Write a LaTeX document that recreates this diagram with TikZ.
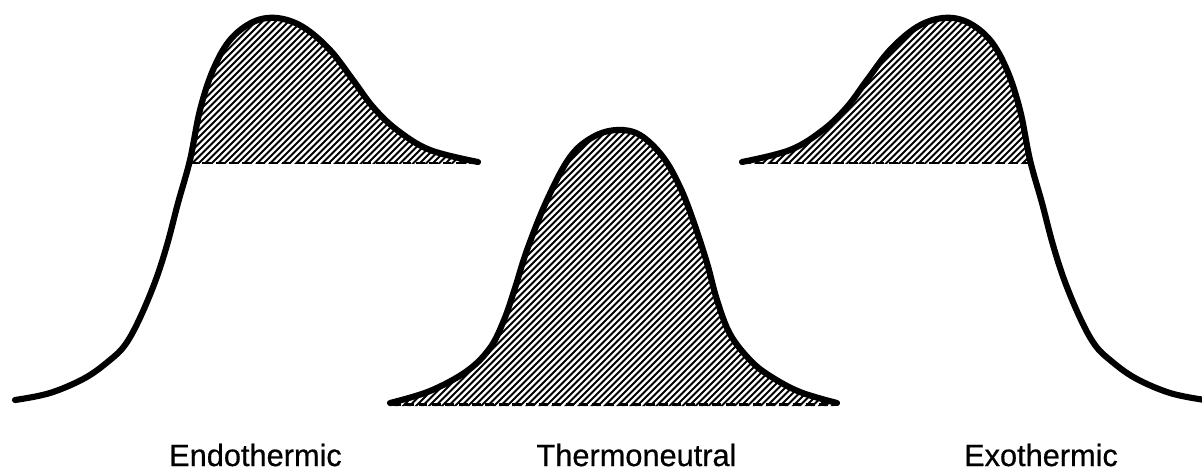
\documentclass[tikz,border=0pt]{standalone}
\usepackage{fontspec}
\setmainfont{Liberation Sans}
\newfontfamily\lblfont[FakeBold=0.6]{Liberation Sans}
\begin{document}
\begin{tikzpicture}[x=0.02cm,y=-0.02cm,
  curve/.style={line width=3.5pt,line cap=round,line join=round},
  basedash/.style={line width=1.7pt,dash pattern=on 5pt off 2.6pt},
  hatchline/.style={line width=1.1pt},
  lbl/.style={font=\lblfont\fontsize{17.5}{20}\selectfont,anchor=base,inner sep=0pt}]
\useasboundingbox (0,0) rectangle (1202,470);

% ---------- Endothermic ----------
\begin{scope}
  \clip (0,0) rectangle (1202,163);
  \clip plot[smooth,tension=0.6] coordinates {(15,400) (50,393) (85,378) (110,360) (125,345) (139,320) (155,282) (167,245) (178,203) (190,160) (200,110) (213,70) (230,40) (253,22) (277,18) (303,27) (330,50) (353,80) (373,107) (397,130) (430,150) (478,162)} -- (478,400) -- cycle;
  \foreach \i in {180,186.5,...,660} \draw[hatchline] (\i,0) -- ++(-470,470);
\end{scope}
\draw[basedash] (189,163) -- (478,163);
\draw[curve] plot[smooth,tension=0.6] coordinates {(15,400) (50,393) (85,378) (110,360) (125,345) (139,320) (155,282) (167,245) (178,203) (190,160) (200,110) (213,70) (230,40) (253,22) (277,18) (303,27) (330,50) (353,80) (373,107) (397,130) (430,150) (478,162)};

% ---------- Thermoneutral ----------
\begin{scope}
  \clip plot[smooth,tension=0.6] coordinates {(390,403) (430,391) (467,371) (490,348) (504,320) (515,288) (527,250) (547,200) (570,157) (593,137) (617,130) (640,135) (663,157) (680,187) (693,220) (707,263) (717,300) (730,334) (750,360) (770,376) (800,392) (837,403)} -- (837,406) -- (390,406) -- cycle;
  \foreach \i in {510,516.5,...,1250} \draw[hatchline] (\i,0) -- ++(-470,470);
\end{scope}
\draw[basedash] (392,404) -- (837,404);
\draw[curve] plot[smooth,tension=0.6] coordinates {(390,403) (430,391) (467,371) (490,348) (504,320) (515,288) (527,250) (547,200) (570,157) (593,137) (617,130) (640,135) (663,157) (680,187) (693,220) (707,263) (717,300) (730,334) (750,360) (770,376) (800,392) (837,403)};

% ---------- Exothermic (mirror of endothermic about x = 610) ----------
\begin{scope}
  \clip (0,0) rectangle (1202,163);
  \clip plot[smooth,tension=0.6] coordinates {(742,162) (790,150) (823,130) (847,107) (867,80) (890,50) (917,27) (943,18) (967,22) (990,40) (1007,70) (1020,110) (1030,160) (1042,203) (1053,245) (1065,282) (1081,320) (1095,345) (1110,360) (1135,378) (1170,393) (1205,400)} -- (742,400) -- cycle;
  \foreach \i in {744,750.5,...,1220} \draw[hatchline] (\i,0) -- ++(-470,470);
\end{scope}
\draw[basedash] (742,163) -- (1031,163);
\draw[curve] plot[smooth,tension=0.6] coordinates {(742,162) (790,150) (823,130) (847,107) (867,80) (890,50) (917,27) (943,18) (967,22) (990,40) (1007,70) (1020,110) (1030,160) (1042,203) (1053,245) (1065,282) (1081,320) (1095,345) (1110,360) (1135,378) (1170,393) (1205,400)};

% ---------- Labels ----------
\node[lbl] (endo) at (255.5,466) {Endothermic};
\node[lbl] (thermo) at (636.5,466) {Thermoneutral};
\node[lbl] (exo) at (1041,466) {Exothermic};
\end{tikzpicture}
\end{document}
